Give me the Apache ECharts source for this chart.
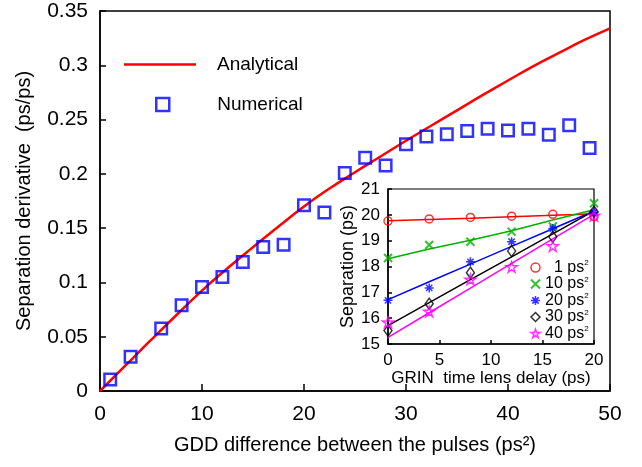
<!DOCTYPE html>
<html lang="en">
<head>
    <meta charset="UTF-8">
    <title>Separation derivative vs GDD difference</title>
    <script src="https://cdn.jsdelivr.net/npm/echarts@6/dist/echarts.min.js"></script>
    <style>
        html, body { margin: 0; padding: 0; background: #fff; }
        #chart { width: 642px; height: 467px; }
    </style>
</head>
<body>
<div id="chart"></div>
<script>
    // main plot: numerical points (squares)
    const numX = [1, 3, 6, 8, 10, 12, 14, 16, 18, 20, 22, 24, 26, 28, 30, 32, 34, 36, 38, 40, 42, 44, 46, 48];
    const numY = [0.0105, 0.0316, 0.0575, 0.0789, 0.0958, 0.105, 0.1188, 0.1326, 0.1348, 0.171, 0.1643, 0.2007,
                  0.2149, 0.2078, 0.2272, 0.2345, 0.2364, 0.2394, 0.2416, 0.2400, 0.2416, 0.2361, 0.2447, 0.2238];

    // main plot: analytical curve, read every 2.5 ps^2
    const anaX = [0, 2.5, 5, 7.5, 10, 12.5, 15, 17.5, 20, 22.5, 25, 27.5, 30, 32.5, 35, 37.5, 40, 42.5, 45, 47.5, 50];
    const anaY = [0, 0.0235, 0.047, 0.070, 0.0925, 0.113, 0.1325, 0.1515, 0.170, 0.1865, 0.2015, 0.216, 0.2305,
                  0.2445, 0.2585, 0.2725, 0.286, 0.2993, 0.3115, 0.3233, 0.334];

    // inset: separation vs GRIN time lens delay
    const insetX = [0, 4, 8, 12, 16, 20];
    const sep1 = [19.76, 19.84, 19.90, 19.95, 20.02, 19.93];
    const sep10 = [18.33, 18.83, 18.96, 19.35, 19.55, 20.45];
    const sep20 = [16.69, 17.17, 18.18, 18.96, 19.47, 20.10];
    const sep30 = [15.52, 16.56, 17.76, 18.60, 19.15, 20.12];
    const sep40 = [15.84, 16.26, 17.50, 17.98, 18.79, 19.97];
    const fit1 = [19.77, 19.82, 19.87, 19.93, 19.98, 20.03];
    const fit10 = [18.30, 18.68, 19.02, 19.38, 19.80, 20.20];
    const fit20 = [16.72, 17.41, 18.09, 18.78, 19.46, 20.15];
    const fit30 = [15.71, 16.60, 17.49, 18.37, 19.26, 20.15];
    const fit40 = [15.26, 16.21, 17.16, 18.12, 19.07, 20.02];
    const insetNames = ['1 ps2', '10 ps2', '20 ps2', '30 ps2', '40 ps2'];

    const font = 'Liberation Sans, Arial, sans-serif';
    const RED = '#ff0000', GREEN = '#00b000', BLUE = '#0000ff', BLACK = '#000000', MAGENTA = '#ff00ff';

    const xMark = 'path://M0,0L10,10M10,0L0,10';
    const asterisk = 'path://M5,0L5,10M0,5L10,5M1.5,1.5L8.5,8.5M8.5,1.5L1.5,8.5';
    const star = 'path://M5,0L6.117,3.463L9.755,3.455L6.807,5.587L7.939,9.045L5,6.9L2.061,9.045L3.193,5.587L0.245,3.455L3.883,3.463Z';

    const zip = (xs, ys) => xs.map((x, i) => [x, ys[i]]);

    function axisCommon(fontSize, tickLen, nameSize, margin) {
        return {
            axisLine: { lineStyle: { color: '#000', width: 1.5 } },
            axisTick: { inside: true, length: tickLen, lineStyle: { color: '#000', width: 1.5 } },
            splitLine: { show: false },
            axisLabel: { color: '#000', fontSize: fontSize, fontFamily: font, margin: margin },
            nameLocation: 'middle',
            nameTextStyle: { color: '#000', fontFamily: font, fontSize: nameSize }
        };
    }

    function insetMarkers(name, ys, symbol, size, color, width) {
        return {
            name: name, type: 'scatter', xAxisIndex: 1, yAxisIndex: 1,
            data: zip(insetX, ys), symbol: symbol, symbolSize: size, symbolKeepAspect: true,
            itemStyle: { color: 'transparent', borderColor: color, borderWidth: width },
            z: 5
        };
    }

    function insetFit(ys, color) {
        return {
            name: 'fit', type: 'line', xAxisIndex: 1, yAxisIndex: 1,
            data: zip(insetX, ys), showSymbol: false, symbol: 'none', silent: true,
            lineStyle: { color: color, width: 1.5 }, z: 4
        };
    }

    const chart = echarts.init(document.getElementById('chart'));
    const option = {
        animation: false,
        textStyle: { fontFamily: font },
        grid: [
            { left: 100, top: 11, right: 32, bottom: 76, show: true, borderColor: '#000', borderWidth: 1.5 },
            { left: 388, top: 189, width: 206, height: 155, show: true, borderColor: '#000', borderWidth: 1.2,
              backgroundColor: '#fff' }
        ],
        xAxis: [
            Object.assign(axisCommon(21, 7, 20, 13), {
                gridIndex: 0, type: 'value', min: 0, max: 50, interval: 10,
                name: 'GDD difference between the pulses (ps²)', nameGap: 44
            }),
            Object.assign(axisCommon(17, 4, 17, 8), {
                gridIndex: 1, type: 'value', min: 0, max: 20, interval: 5,
                name: 'GRIN  time lens delay (ps)', nameGap: 16
            })
        ],
        yAxis: [
            Object.assign(axisCommon(21, 6, 20, 12), {
                gridIndex: 0, type: 'value', min: 0, max: 0.35, interval: 0.05,
                name: 'Separation derivative  (ps/ps)', nameGap: 66
            }),
            Object.assign(axisCommon(17, 4, 18, 8), {
                gridIndex: 1, type: 'value', min: 15, max: 21, interval: 1,
                name: 'Separation (ps)', nameGap: 30
            })
        ],
        legend: [
            {
                data: [{ name: 'Analytical', icon: 'rect', itemStyle: { color: RED, borderWidth: 0 } }],
                left: 124, top: 55, padding: 0, itemWidth: 72, itemHeight: 2.5,
                selectedMode: false,
                textStyle: { fontSize: 19, color: '#000', padding: [0, 0, 0, 16] }
            },
            {
                data: [{ name: 'Numerical', icon: 'rect',
                         itemStyle: { color: 'transparent', borderColor: BLUE, borderWidth: 2.5 } }],
                left: 155, top: 95, padding: 0, itemWidth: 13, itemHeight: 13, selectedMode: false,
                textStyle: { fontSize: 19, color: '#000', padding: [0, 0, 0, 43] }
            },
            {
                orient: 'vertical', left: 530, top: 259, padding: 0, itemWidth: 9, itemHeight: 9, itemGap: 0,
                selectedMode: false,
                formatter: name => '{t|' + (name === '1 ps2' ? '  1 ps' : name.slice(0, -1)) + '}{s|2}',
                textStyle: {
                    color: '#000',
                    rich: {
                        t: { fontSize: 16, lineHeight: 17, color: '#000', fontFamily: font },
                        s: { fontSize: 8, lineHeight: 17, verticalAlign: 'top', color: '#000', fontFamily: font,
                             padding: [0, 0, 8, 0] }
                    }
                },
                data: [
                    { name: insetNames[0], icon: 'circle', itemStyle: { color: 'transparent', borderColor: RED, borderWidth: 1.5 } },
                    { name: insetNames[1], icon: xMark, itemStyle: { color: 'transparent', borderColor: GREEN, borderWidth: 2 } },
                    { name: insetNames[2], icon: asterisk, itemStyle: { color: 'transparent', borderColor: BLUE, borderWidth: 1.5 } },
                    { name: insetNames[3], icon: 'diamond', itemStyle: { color: 'transparent', borderColor: BLACK, borderWidth: 1.5 } },
                    { name: insetNames[4], icon: star, itemStyle: { color: 'transparent', borderColor: MAGENTA, borderWidth: 1.5 } }
                ]
            }
        ],
        series: [
            {
                name: 'Analytical', type: 'line', xAxisIndex: 0, yAxisIndex: 0,
                data: zip(anaX, anaY), smooth: true, showSymbol: false, symbol: 'none',
                lineStyle: { color: RED, width: 2.5 }, itemStyle: { color: RED }
            },
            {
                name: 'Numerical', type: 'scatter', xAxisIndex: 0, yAxisIndex: 0,
                data: zip(numX, numY), symbol: 'rect', symbolSize: 11.5,
                itemStyle: { color: 'transparent', borderColor: BLUE, borderWidth: 2.5 }, z: 3
            },
            insetFit(fit1, RED),
            insetFit(fit10, GREEN),
            insetFit(fit20, BLUE),
            insetFit(fit30, BLACK),
            insetFit(fit40, MAGENTA),
            insetMarkers(insetNames[0], sep1, 'circle', 8, RED, 1.5),
            insetMarkers(insetNames[1], sep10, xMark, 8, GREEN, 2),
            insetMarkers(insetNames[2], sep20, asterisk, 9, BLUE, 1.5),
            insetMarkers(insetNames[3], sep30, 'diamond', [8, 11], BLACK, 1.5),
            insetMarkers(insetNames[4], sep40, star, 11, MAGENTA, 1.5)
        ]
    };
    chart.setOption(option);
</script>
</body>
</html>
